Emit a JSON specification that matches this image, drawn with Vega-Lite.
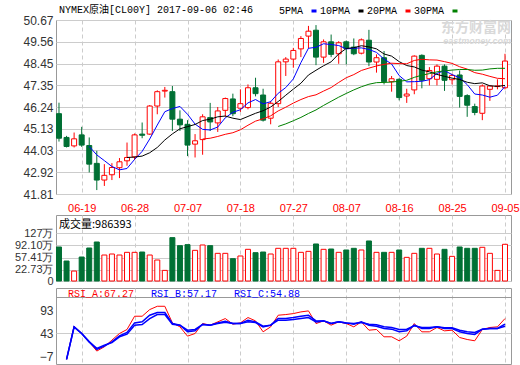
{
  "$schema": "https://vega.github.io/schema/vega-lite/v6.json",
  "background": "white",
  "padding": {"left": 0, "top": 4, "right": 0, "bottom": 0},
  "autosize": {"type": "pad"},
  "spacing": 0,
  "title": {"text": "东方财富网", "subtitle": "eastmoney.com", "anchor": "end", "frame": "group", "orient": "top", "offset": -41, "font": "Noto Sans CJK SC", "fontSize": 14, "fontWeight": "bold", "color": "#d9d9d9", "subtitleFont": "Liberation Sans", "subtitleFontSize": 9, "subtitleFontWeight": "bold", "subtitleFontStyle": "italic", "subtitleColor": "#d9d9d9", "subtitlePadding": 2},
  "resolve": {"scale": {"x": "independent", "y": "independent", "color": "independent"}, "legend": {"color": "independent"}},
  "config": {
    "view": {"stroke": "#999999", "strokeWidth": 1},
    "axis": {"ticks": false, "domain": false, "labelFont": "Liberation Sans", "labelColor": "#333333", "gridColor": "#cccccc", "gridWidth": 1, "labelOverlap": false}
  },
  "datasets": {
    "k": [
{"d":"06-14","o":45.9,"h":46.46,"l":44.48,"c":44.65,"v":87.8},
{"d":"06-15","o":44.69,"h":44.77,"l":44.18,"c":44.23,"v":47.6,"RSI_A":-12.7,"RSI_B":-12.7,"RSI_C":-12.7},
{"d":"06-16","o":44.26,"h":44.94,"l":44.18,"c":44.62,"v":18.9,"RSI_A":58.7,"RSI_B":57.3,"RSI_C":57.3},
{"d":"06-19","o":44.82,"h":45.23,"l":44.21,"c":44.3,"v":59.1,"RSI_A":43,"RSI_B":43,"RSI_C":43},
{"d":"06-20","o":44.28,"h":44.69,"l":42.91,"c":43.33,"v":84.9,"5PMA":44.23,"RSI_A":25,"RSI_B":25,"RSI_C":25},
{"d":"06-21","o":43.37,"h":44.01,"l":42.01,"c":42.52,"v":102.1,"5PMA":43.8,"RSI_A":5.2,"RSI_B":8.7,"RSI_C":10.9},
{"d":"06-22","o":42.52,"h":43.33,"l":42.22,"c":42.76,"v":64.8,"5PMA":43.51,"RSI_A":14.4,"RSI_B":15.9,"RSI_C":18},
{"d":"06-23","o":42.79,"h":43.38,"l":42.52,"c":43.16,"v":67.7,"5PMA":43.21,"RSI_A":28.7,"RSI_B":25.1,"RSI_C":23.7},
{"d":"06-26","o":43.15,"h":43.64,"l":42.62,"c":43.45,"v":64.8,"5PMA":43.04,"RSI_A":43,"RSI_B":38,"RSI_C":35.9},
{"d":"06-27","o":43.5,"h":44.43,"l":43.25,"c":43.67,"v":72.5,"5PMA":43.11,"10PMA":43.67,"RSI_A":51.6,"RSI_B":45.1,"RSI_C":41.6},
{"d":"06-28","o":43.7,"h":44.89,"l":43.54,"c":44.82,"v":72.5,"5PMA":43.57,"10PMA":43.69,"RSI_A":80.1,"RSI_B":65.8,"RSI_C":60.9},
{"d":"06-29","o":44.86,"h":45.45,"l":44.65,"c":44.8,"v":73.4,"5PMA":43.98,"10PMA":43.74,"RSI_A":80.1,"RSI_B":68,"RSI_C":62.3},
{"d":"06-30","o":44.86,"h":46.34,"l":44.82,"c":46.29,"v":64.8,"5PMA":44.61,"10PMA":43.91,"RSI_A":94.4,"RSI_B":82.3,"RSI_C":75.1},
{"d":"07-03","o":46.29,"h":47.09,"l":45.87,"c":47.02,"v":50.5,"5PMA":45.32,"10PMA":44.18,"RSI_A":101.5,"RSI_B":88,"RSI_C":83.7},
{"d":"07-04","o":47.05,"h":47.26,"l":46.72,"c":47.09,"v":20.8,"5PMA":46,"10PMA":44.56,"RSI_A":101.5,"RSI_B":88,"RSI_C":83.7},
{"d":"07-05","o":47.02,"h":47.31,"l":45.02,"c":45.62,"v":114.6,"5PMA":46.16,"10PMA":44.87,"RSI_A":65.8,"RSI_B":64.4,"RSI_C":63},
{"d":"07-06","o":45.62,"h":46.07,"l":45.02,"c":45.33,"v":91.6,"5PMA":46.27,"10PMA":45.13,"RSI_A":57.3,"RSI_B":60.9,"RSI_C":60.9},
{"d":"07-07","o":45.36,"h":45.57,"l":43.74,"c":44.3,"v":94.5,"5PMA":45.87,"10PMA":45.24,"RSI_A":37.3,"RSI_B":46.6,"RSI_C":50.1},
{"d":"07-10","o":44.35,"h":44.86,"l":43.67,"c":44.52,"v":78.2,"5PMA":45.37,"10PMA":45.35,"RSI_A":43,"RSI_B":48.7,"RSI_C":51.6},
{"d":"07-11","o":44.58,"h":45.87,"l":43.81,"c":45.74,"v":93.5,"5PMA":45.1,"10PMA":45.55,"20PMA":44.61,"RSI_A":64.4,"RSI_B":63,"RSI_C":62.3},
{"d":"07-12","o":45.7,"h":46.45,"l":45.02,"c":45.48,"v":91.6,"5PMA":45.07,"10PMA":45.62,"20PMA":44.65,"RSI_A":60.9,"RSI_B":60.9,"RSI_C":60.9},
{"d":"07-13","o":45.43,"h":46.24,"l":44.97,"c":46.04,"v":69.6,"5PMA":45.22,"10PMA":45.74,"20PMA":44.74,"RSI_A":68,"RSI_B":65.8,"RSI_C":64.4},
{"d":"07-14","o":46.07,"h":46.72,"l":45.74,"c":46.67,"v":69.6,"5PMA":45.69,"10PMA":45.78,"20PMA":44.85,"RSI_A":75.1,"RSI_B":69.4,"RSI_C":67.3},
{"d":"07-17","o":46.65,"h":46.92,"l":45.77,"c":45.9,"v":54.3,"5PMA":45.97,"10PMA":45.67,"20PMA":44.93,"RSI_A":63,"RSI_B":64.4,"RSI_C":64.4},
{"d":"07-18","o":46.18,"h":47.14,"l":45.99,"c":46.41,"v":62,"5PMA":46.1,"10PMA":45.6,"20PMA":45.08,"RSI_A":65.8,"RSI_B":64.4,"RSI_C":64.4},
{"d":"07-19","o":46.21,"h":47.39,"l":46.12,"c":47.22,"v":81.1,"5PMA":46.45,"10PMA":45.76,"20PMA":45.31,"RSI_A":77.3,"RSI_B":71.6,"RSI_C":68},
{"d":"07-20","o":47.22,"h":47.73,"l":46.78,"c":46.92,"v":71.5,"5PMA":46.62,"10PMA":45.92,"20PMA":45.52,"RSI_A":70.1,"RSI_B":68,"RSI_C":66.6},
{"d":"07-21","o":46.85,"h":47.17,"l":45.5,"c":45.57,"v":73.4,"5PMA":46.4,"10PMA":46.05,"20PMA":45.64,"RSI_A":46.6,"RSI_B":58.7,"RSI_C":57.3},
{"d":"07-24","o":45.67,"h":46.55,"l":45.36,"c":46.43,"v":67.7,"5PMA":46.51,"10PMA":46.24,"20PMA":45.79,"RSI_A":57.3,"RSI_B":60.9,"RSI_C":60.9},
{"d":"07-25","o":46.41,"h":48.66,"l":46.24,"c":48.54,"v":84,"5PMA":46.94,"10PMA":46.52,"20PMA":46.04,"30PMA":45.25,"RSI_A":82.3,"RSI_B":75.1,"RSI_C":71.6},
{"d":"07-26","o":48.54,"h":48.78,"l":47.82,"c":48.68,"v":84,"5PMA":47.23,"10PMA":46.84,"20PMA":46.23,"30PMA":45.38,"RSI_A":83.7,"RSI_B":75.1,"RSI_C":71.6},
{"d":"07-27","o":48.68,"h":49.25,"l":48.24,"c":49.12,"v":84,"5PMA":47.67,"10PMA":47.15,"20PMA":46.44,"30PMA":45.54,"RSI_A":85.8,"RSI_B":77.3,"RSI_C":73},
{"d":"07-28","o":49.2,"h":49.85,"l":48.78,"c":49.73,"v":72.5,"5PMA":48.5,"10PMA":47.45,"20PMA":46.62,"30PMA":45.71,"RSI_A":89.4,"RSI_B":80.1,"RSI_C":75.1},
{"d":"07-31","o":49.85,"h":50.37,"l":49.22,"c":50.1,"v":75.3,"5PMA":49.23,"10PMA":47.87,"20PMA":46.77,"30PMA":45.91,"RSI_A":91.6,"RSI_B":82.3,"RSI_C":77.3},
{"d":"08-01","o":50.15,"h":50.41,"l":48.37,"c":48.78,"v":96.4,"5PMA":49.28,"10PMA":48.11,"20PMA":46.86,"30PMA":46.09,"RSI_A":64.4,"RSI_B":70.1,"RSI_C":68},
{"d":"08-02","o":48.78,"h":49.68,"l":48.49,"c":49.56,"v":81.1,"5PMA":49.46,"10PMA":48.34,"20PMA":47.05,"30PMA":46.32,"RSI_A":70.1,"RSI_B":70.1,"RSI_C":70.1},
{"d":"08-03","o":49.56,"h":49.93,"l":48.78,"c":48.92,"v":82,"5PMA":49.42,"10PMA":48.54,"20PMA":47.23,"30PMA":46.53,"RSI_A":60.9,"RSI_B":64.4,"RSI_C":64.4},
{"d":"08-04","o":48.95,"h":49.59,"l":48.44,"c":49.51,"v":72.5,"5PMA":49.37,"10PMA":48.94,"20PMA":47.49,"30PMA":46.74,"RSI_A":68,"RSI_B":68,"RSI_C":68},
{"d":"08-07","o":49.56,"h":49.63,"l":48.41,"c":49.22,"v":79.2,"5PMA":49.2,"10PMA":49.22,"20PMA":47.73,"30PMA":46.93,"RSI_A":64.4,"RSI_B":65.8,"RSI_C":65.8},
{"d":"08-08","o":49.29,"h":49.73,"l":48.88,"c":48.95,"v":84,"5PMA":49.23,"10PMA":49.26,"20PMA":47.89,"30PMA":47.11,"RSI_A":57.3,"RSI_B":63,"RSI_C":64.4},
{"d":"08-09","o":48.98,"h":49.73,"l":48.92,"c":49.66,"v":79.2,"5PMA":49.25,"10PMA":49.36,"20PMA":48.1,"30PMA":47.27,"RSI_A":68,"RSI_B":68,"RSI_C":66.6},
{"d":"08-10","o":49.64,"h":50.17,"l":48.32,"c":48.53,"v":105,"5PMA":49.17,"10PMA":49.3,"20PMA":48.22,"30PMA":47.4,"RSI_A":50.1,"RSI_B":60.9,"RSI_C":63},
{"d":"08-11","o":48.53,"h":48.92,"l":47.99,"c":48.75,"v":72.5,"5PMA":49.02,"10PMA":49.2,"20PMA":48.33,"30PMA":47.48,"RSI_A":51.6,"RSI_B":58.7,"RSI_C":61.6},
{"d":"08-14","o":48.75,"h":49.09,"l":47.39,"c":47.53,"v":72.5,"5PMA":48.68,"10PMA":48.94,"20PMA":48.41,"30PMA":47.49,"RSI_A":35.9,"RSI_B":53.7,"RSI_C":57.3},
{"d":"08-15","o":47.53,"h":47.82,"l":47.02,"c":47.68,"v":72.5,"5PMA":48.43,"10PMA":48.83,"20PMA":48.47,"30PMA":47.51,"RSI_A":35.9,"RSI_B":52.3,"RSI_C":55.9},
{"d":"08-16","o":47.65,"h":47.7,"l":46.58,"c":46.72,"v":79.2,"5PMA":47.84,"10PMA":48.55,"20PMA":48.45,"30PMA":47.55,"RSI_A":27.3,"RSI_B":46.6,"RSI_C":51.6},
{"d":"08-17","o":46.8,"h":47.17,"l":46.45,"c":46.9,"v":58.1,"5PMA":47.52,"10PMA":48.35,"20PMA":48.44,"30PMA":47.6,"RSI_A":37.3,"RSI_B":48.7,"RSI_C":52.3},
{"d":"08-18","o":47.11,"h":48.87,"l":46.89,"c":48.83,"v":69.6,"5PMA":47.53,"10PMA":48.28,"20PMA":48.61,"30PMA":47.75,"RSI_A":64.4,"RSI_B":60.9,"RSI_C":59.4},
{"d":"08-21","o":48.87,"h":48.92,"l":47.19,"c":47.6,"v":84,"5PMA":47.55,"10PMA":48.12,"20PMA":48.67,"30PMA":47.86,"RSI_A":46.6,"RSI_B":53.7,"RSI_C":55.9},
{"d":"08-22","o":47.68,"h":48.27,"l":47.34,"c":48.1,"v":84,"5PMA":47.63,"10PMA":48.03,"20PMA":48.64,"30PMA":47.94,"RSI_A":46.6,"RSI_B":53.7,"RSI_C":55.9},
{"d":"08-23","o":47.65,"h":48.41,"l":47.34,"c":48.32,"v":67.7,"5PMA":47.95,"10PMA":47.9,"20PMA":48.63,"30PMA":48.03,"RSI_A":55.9,"RSI_B":57.3,"RSI_C":57.3},
{"d":"08-24","o":48.32,"h":48.41,"l":47.06,"c":47.6,"v":81.1,"5PMA":48.09,"10PMA":47.8,"20PMA":48.55,"30PMA":48.08,"RSI_A":48.7,"RSI_B":53.7,"RSI_C":55.1},
{"d":"08-25","o":47.63,"h":47.94,"l":47.39,"c":47.85,"v":61,"5PMA":47.89,"10PMA":47.71,"20PMA":48.46,"30PMA":48.12,"RSI_A":50.1,"RSI_B":53.7,"RSI_C":55.1},
{"d":"08-28","o":47.87,"h":48.1,"l":46.21,"c":46.78,"v":87.8,"5PMA":47.73,"10PMA":47.64,"20PMA":48.29,"30PMA":48.15,"RSI_A":34.4,"RSI_B":46.6,"RSI_C":50.1},
{"d":"08-29","o":46.82,"h":46.89,"l":45.74,"c":46.33,"v":84,"5PMA":47.38,"10PMA":47.5,"20PMA":48.17,"30PMA":48.15,"RSI_A":30.1,"RSI_B":43,"RSI_C":46.6},
{"d":"08-30","o":46.26,"h":46.41,"l":45.82,"c":45.96,"v":84,"5PMA":46.9,"10PMA":47.43,"20PMA":47.99,"30PMA":48.11,"RSI_A":27.3,"RSI_B":40.9,"RSI_C":45.1},
{"d":"08-31","o":45.92,"h":47.39,"l":45.57,"c":47.31,"v":86.9,"5PMA":46.85,"10PMA":47.47,"20PMA":47.91,"30PMA":48.12,"RSI_A":51.6,"RSI_B":52.3,"RSI_C":52.3},
{"d":"09-01","o":47.14,"h":47.34,"l":46.55,"c":47.31,"v":69.6,"5PMA":46.74,"10PMA":47.32,"20PMA":47.8,"30PMA":48.18,"RSI_A":55.9,"RSI_B":53.7,"RSI_C":53.7},
{"d":"09-04","o":47.28,"h":47.65,"l":47.14,"c":47.31,"v":20.8,"5PMA":46.84,"10PMA":47.29,"20PMA":47.7,"30PMA":48.21,"RSI_A":57.3,"RSI_B":53.7,"RSI_C":53.7},
{"d":"09-05","o":47.22,"h":48.95,"l":47.14,"c":48.58,"v":95.5,"5PMA":47.29,"10PMA":47.34,"20PMA":47.68,"30PMA":48.21,"RSI_A":75.1,"RSI_B":63,"RSI_C":58.7}
    ]
  },
  "vconcat": [
    {
      "width": 455,
      "height": 174,
      "data": {"name": "k"},
      "title": {"text": "NYMEX原油[CL00Y] 2017-09-06 02:46", "anchor": "start", "frame": "group", "dx": 3, "offset": -9, "font": "Liberation Mono, Noto Sans CJK SC", "fontSize": 10, "fontWeight": "normal", "color": "#000000"},
      "encoding": {
        "x": {"field": "d", "type": "ordinal", "title": null,
              "scale": {"type": "point", "padding": 0.595, "align": 0.333},
              "axis": {"values": ["06-19","06-28","07-07","07-18","07-27","08-07","08-16","08-25","09-05"], "labelColor": "#ff0000", "labelFontSize": 11, "labelPadding": 8, "labelAngle": 0, "grid": true, "gridDash": [4, 3], "minExtent": 19.3, "maxExtent": 19.3}}
      },
      "layer": [
        {
          "mark": {"type": "rule", "strokeWidth": 1},
          "encoding": {
            "y": {"field": "l", "type": "quantitative", "title": null,
                  "scale": {"domain": [41.81, 50.67], "nice": false, "zero": false},
                  "axis": {"values": [41.81, 42.92, 44.03, 45.13, 46.24, 47.35, 48.45, 49.56, 50.67], "tickCount": 20, "format": ".2f", "labelFontSize": 12, "labelPadding": 3, "labelOverlap": false, "grid": true, "minExtent": 55, "maxExtent": 55}},
            "y2": {"field": "h"},
            "color": {"condition": {"test": "datum.c >= datum.o", "value": "#ff0000"}, "value": "#007034"}
          }
        },
        {
          "mark": {"type": "bar", "width": 5, "strokeWidth": 1},
          "encoding": {
            "y": {"field": "o", "type": "quantitative", "title": null,
                  "axis": {"values": [41.81, 42.92, 44.03, 45.13, 46.24, 47.35, 48.45, 49.56, 50.67], "tickCount": 20, "format": ".2f", "labelFontSize": 12, "labelPadding": 3, "labelOverlap": false, "grid": true, "minExtent": 55, "maxExtent": 55}},
            "y2": {"field": "c"},
            "fill": {"condition": {"test": "datum.c >= datum.o", "value": "#ffffff"}, "value": "#007034"},
            "stroke": {"condition": {"test": "datum.c >= datum.o", "value": "#ff0000"}, "value": "#007034"}
          }
        },
        {
          "transform": [{"fold": ["5PMA", "10PMA", "20PMA", "30PMA"], "as": ["s", "m"]}],
          "mark": {"type": "line", "strokeWidth": 1},
          "encoding": {
            "y": {"field": "m", "type": "quantitative", "title": null,
                  "axis": {"values": [41.81, 42.92, 44.03, 45.13, 46.24, 47.35, 48.45, 49.56, 50.67], "tickCount": 20, "format": ".2f", "labelFontSize": 12, "labelPadding": 3, "labelOverlap": false, "grid": true, "minExtent": 55, "maxExtent": 55}},
            "color": {"field": "s", "type": "nominal",
                      "scale": {"domain": ["_", "5PMA", "10PMA", "20PMA", "30PMA"], "range": ["#ffffff", "#0000ff", "#000000", "#ff0000", "#008000"]},
                      "legend": {"orient": "none", "legendX": 212, "legendY": -14, "direction": "horizontal", "title": null, "symbolType": "stroke", "symbolSize": 25, "symbolStrokeWidth": 3, "labelFont": "Liberation Mono", "labelFontSize": 10, "labelColor": "#000000", "labelOffset": 1, "columnPadding": 1, "padding": 0,
                                 "labelExpr": "datum.label == '_' ? '5PMA' : (datum.label == '5PMA' ? '10PMA' : (datum.label == '10PMA' ? '20PMA' : (datum.label == '20PMA' ? '30PMA' : '')))"}}
          }
        }
      ]
    },
    {
      "width": 455,
      "height": 66,
      "data": {"name": "k"},
      "title": {"text": "成交量:986393", "anchor": "start", "frame": "group", "dx": 3, "offset": -15, "font": "Noto Sans CJK SC", "fontSize": 11, "fontWeight": "normal", "color": "#000000"},
      "mark": {"type": "bar", "width": 5, "strokeWidth": 1},
      "encoding": {
        "x": {"field": "d", "type": "ordinal", "title": null,
              "scale": {"type": "point", "padding": 0.595, "align": 0.333},
              "axis": {"values": ["06-19","06-28","07-07","07-18","07-27","08-07","08-16","08-25","09-05"], "labels": false, "grid": true, "gridDash": [4, 3], "minExtent": 5.3, "maxExtent": 5.3}},
        "y": {"field": "v", "type": "quantitative", "title": null,
              "scale": {"domain": [-9.6, 179.4], "nice": false, "zero": false},
              "axis": {"values": [-9.6, 22.73, 57.41, 92.1, 127], "tickCount": 20, "labelExpr": "datum.value < 0 ? '0' : (datum.value == 127 ? '127万' : format(datum.value, '.2f') + '万')", "labelFontSize": 11, "labelPadding": 3, "labelOverlap": false, "grid": true, "minExtent": 55, "maxExtent": 55}},
        "y2": {"datum": -9.6},
        "fill": {"condition": {"test": "datum.c >= datum.o", "value": "#ffffff"}, "value": "#007034"},
        "stroke": {"condition": {"test": "datum.c >= datum.o", "value": "#ff0000"}, "value": "#007034"}
      }
    },
    {
      "width": 455,
      "height": 76,
      "data": {"name": "k"},
      "transform": [{"fold": ["RSI_A", "RSI_B", "RSI_C"], "as": ["s", "r"]}],
      "mark": {"type": "line"},
      "encoding": {
        "x": {"field": "d", "type": "ordinal", "title": null,
              "scale": {"type": "point", "padding": 0.595, "align": 0.333},
              "axis": {"values": ["06-19","06-28","07-07","07-18","07-27","08-07","08-16","08-25","09-05"], "labels": false, "grid": true, "gridDash": [4, 3]}},
        "y": {"field": "r", "type": "quantitative", "title": null,
              "scale": {"domain": [-22.6, 140.8], "nice": false, "zero": false},
              "axis": {"values": [-7, 43, 93, 121.5], "tickCount": 20, "labelExpr": "datum.value > 100 ? '' : datum.label", "labelFontSize": 12, "labelPadding": 3, "labelOverlap": false, "grid": true, "minExtent": 55, "maxExtent": 55,
                       "gridColor": {"condition": [{"test": "datum.value == 43", "value": "#cccccc"}, {"test": "datum.value > 100", "value": "#999999"}], "value": "transparent"}}},
        "strokeWidth": {"condition": {"test": "datum.s == 'RSI_A'", "value": 1}, "value": 1.5},
        "color": {"field": "s", "type": "nominal",
                  "scale": {"domain": ["RSI_A", "RSI_B", "RSI_C"], "range": ["#ff0000", "#0000ff", "#0000ff"]},
                  "legend": {"orient": "none", "legendX": 2, "legendY": 1, "direction": "horizontal", "title": null, "symbolSize": 0, "symbolStrokeWidth": 0, "symbolOpacity": 0, "labelOffset": 0, "columnPadding": 6, "padding": 0, "labelFont": "Liberation Mono", "labelFontSize": 10,
                             "labelExpr": "datum.label == 'RSI_A' ? 'RSI_A:67.27' : (datum.label == 'RSI_B' ? 'RSI_B:57.17' : 'RSI_C:54.88')",
                             "encode": {"labels": {"update": {"fill": {"signal": "datum.value == 'RSI_A' ? '#ff0000' : '#0000ff'"}}}}}}
      }
    }
  ]
}
